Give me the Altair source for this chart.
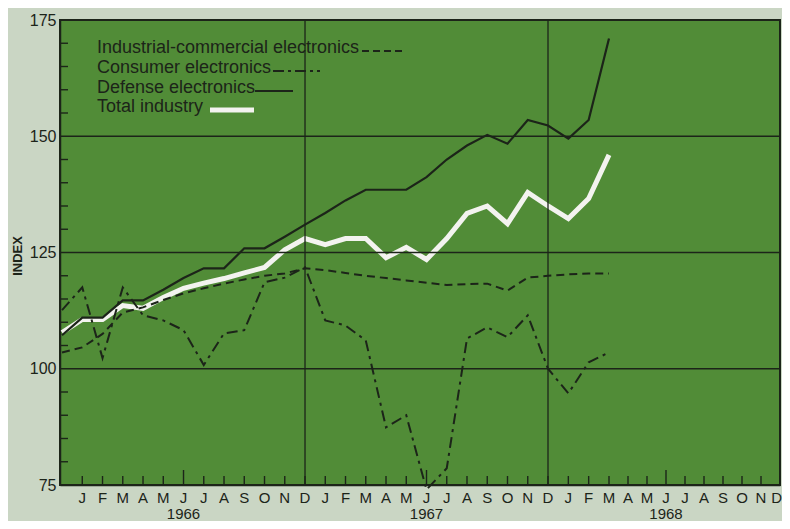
import altair as alt
import pandas as pd

# month index: 0 = Dec 1965, 1 = Jan 1966 ... 27 = Mar 1968
months_t = list(range(0, 28))
defense = [107.2, 111, 111, 114.7, 114.7, 117, 119.5, 121.6, 121.6, 125.9, 125.9, 128.4, 131,
           133.5, 136.2, 138.5, 138.5, 138.5, 141.2, 145, 148, 150.3, 148.4, 153.5, 152.3,
           149.5, 153.5, 171]
total = [107.8, 110.6, 110.6, 113.6, 113, 115.3, 117.3, 118.4, 119.4, 120.6, 121.8, 125.6, 128,
         126.7, 128, 128, 123.9, 126.1, 123.5, 128, 133.4, 135, 131.2, 137.9, 135,
         132.3, 136.6, 146]
industrial = [103.5, 104.6, 107.5, 112.1, 113.2, 114.8, 116.2, 117.3, 118.3, 119.2, 120, 120.5, 121.6,
              121.2, 120.6, 120, 119.5, 119, 118.5, 118, 118.2, 118.3, 116.8, 119.6, 120,
              120.3, 120.5, 120.5]
consumer = [112.6, 117.5, 102.3, 117.5, 111.5, 110.4, 108.3, 100.8, 107.6, 108.3, 118.6, 119.6, 121.8,
            110.4, 109.3, 106.1, 87.4, 90, 74, 78.6, 106.5, 108.9, 106.8, 111.5, 100,
            94.7, 101.4, 103.5]

series_names = ["Industrial-commercial electronics", "Consumer electronics",
                "Defense electronics", "Total industry"]
month_letters = ["J", "F", "M", "A", "M", "J", "J", "A", "S", "O", "N", "D"]
years = ["1966", "1967", "1968"]
year_t = [6, 18, 30]
y_labels = [75, 100, 125, 150, 175]
grid_y = [100, 125, 150]
year_break_t = [12, 24]
minor_y = [v for v in range(80, 175, 5) if v not in grid_y]

W, H = 720, 465
GREEN = "#518c37"
BG = "#cad6c4"
INK = "#1c2419"
WHITE = "#f3f3ef"
FONT = "Liberation Sans, Arial, sans-serif"

# piecewise horizontal scale (the printed month spacing is slightly tighter at the right)
xscale = alt.Scale(domain=[-0.1, 24, 27, 36], range=[0, 488, 549, W], nice=False, zero=False)
yscale = alt.Scale(domain=[75, 175], nice=False, zero=False)

xaxis = alt.Axis(values=list(range(1, 37)), labels=False, tickSize=0, grid=False,
                 domain=True, domainColor=INK, domainWidth=1.5, title=None)
yaxis = alt.Axis(values=y_labels, tickSize=0, grid=False, domain=True, domainColor=INK,
                 domainWidth=1.5, labelFont=FONT, labelFontSize=16, labelColor=INK, labelPadding=4,
                 labelOverlap=False,
                 title="INDEX", titleFont=FONT, titleFontSize=13, titleFontWeight="bold",
                 titleColor=INK, titleX=-36, titleY=H / 2 + 3, titleAngle=270)

df = pd.DataFrame({"t": months_t, "defense": defense, "total": total,
                   "industrial": industrial, "consumer": consumer})

base = alt.Chart(df)

line_total = base.mark_line(color=WHITE, strokeWidth=5, strokeJoin="miter").encode(
    x=alt.X("t:Q", scale=xscale, axis=xaxis),
    y=alt.Y("total:Q", scale=yscale, axis=yaxis))
line_ind = base.mark_line(color=INK, strokeWidth=2, strokeDash=[8, 5]).encode(
    x=alt.X("t:Q", scale=xscale), y=alt.Y("industrial:Q", scale=yscale))
line_con = base.mark_line(color=INK, strokeWidth=2, strokeDash=[11, 5, 3, 5]).encode(
    x=alt.X("t:Q", scale=xscale), y=alt.Y("consumer:Q", scale=yscale))
line_def = base.mark_line(color=INK, strokeWidth=2.2).encode(
    x=alt.X("t:Q", scale=xscale), y=alt.Y("defense:Q", scale=yscale))

grid_h = alt.Chart(pd.DataFrame({"v": grid_y})).mark_rule(color=INK, strokeWidth=1.3).encode(
    y=alt.Y("v:Q", scale=yscale), x=alt.value(0), x2=alt.value(W))
grid_v = alt.Chart(pd.DataFrame({"t": year_break_t})).mark_rule(color=INK, strokeWidth=1.3).encode(
    x=alt.X("t:Q", scale=xscale), y=alt.value(0), y2=alt.value(H))

tick_df = pd.DataFrame({"t": list(range(1, 37)),
                        "label": month_letters * len(years)})
tick_df["mid"] = (tick_df["t"] % 12) == 6
ticks_x = alt.Chart(tick_df).transform_filter("!datum.mid").mark_rule(
    color=INK, strokeWidth=1.4).encode(
    x=alt.X("t:Q", scale=xscale), y=alt.value(H), y2=alt.value(H - 9))
ticks_xmid = alt.Chart(tick_df).transform_filter("datum.mid").mark_rule(
    color=INK, strokeWidth=1.4).encode(
    x=alt.X("t:Q", scale=xscale), y=alt.value(H), y2=alt.value(H - 15))
ticks_y = alt.Chart(pd.DataFrame({"v": minor_y})).mark_rule(color=INK, strokeWidth=1.4).encode(
    y=alt.Y("v:Q", scale=yscale), x=alt.value(0), x2=alt.value(8))

month_text = alt.Chart(tick_df).transform_filter("datum.t < 36").mark_text(
    font=FONT, fontSize=15, color=INK, baseline="middle", align="center").encode(
    x=alt.X("t:Q", scale=xscale), y=alt.value(H + 13), text="label:N")
month_text_last = alt.Chart(tick_df).transform_filter("datum.t >= 36").mark_text(
    font=FONT, fontSize=15, color=INK, baseline="middle", align="right", dx=2).encode(
    x=alt.X("t:Q", scale=xscale), y=alt.value(H + 13), text="label:N")

year_text = alt.Chart(pd.DataFrame({"t": year_t, "label": years})).mark_text(
    font=FONT, fontSize=15, color=INK, baseline="alphabetic", align="center").encode(
    x=alt.X("t:Q", scale=xscale), y=alt.value(H + 34), text="label:N")

# legend (drawn inside the plot, label followed by line sample)
leg_rows_y = [28, 48, 68, 87]
leg_sample_x = [(302, 346), (213, 260), (195, 233), (150, 194)]
leg_styles = [dict(strokeDash=[7, 4], strokeWidth=2, color=INK),
              dict(strokeDash=[11, 4, 3, 4], strokeWidth=2, color=INK),
              dict(strokeWidth=2, color=INK),
              dict(strokeWidth=5, color=WHITE)]
legend_layers = []
for name, yy, (xa, xb), st in zip(series_names, leg_rows_y, leg_sample_x, leg_styles):
    d = pd.DataFrame({"label": [name]})
    legend_layers.append(alt.Chart(d).mark_text(font=FONT, fontSize=18, color=INK, align="left",
                                                baseline="middle").encode(
        text="label:N", x=alt.value(37), y=alt.value(yy)))
    legend_layers.append(alt.Chart(d).mark_rule(**st).encode(
        x=alt.value(xa), x2=alt.value(xb), y=alt.value(yy + 3)))

chart = alt.layer(line_total, grid_h, grid_v, ticks_x, ticks_xmid, ticks_y, line_ind, line_con,
                  line_def, month_text, month_text_last, year_text, *legend_layers).properties(
    width=W, height=H, background=BG,
    autosize=alt.AutoSizeParams(type="none"),
    padding={"left": 52, "top": 12, "right": 2, "bottom": 36}
).configure_view(fill=GREEN, stroke=INK, strokeWidth=2)

chart.save("out.html", embed_options={"renderer": "svg", "actions": False})
